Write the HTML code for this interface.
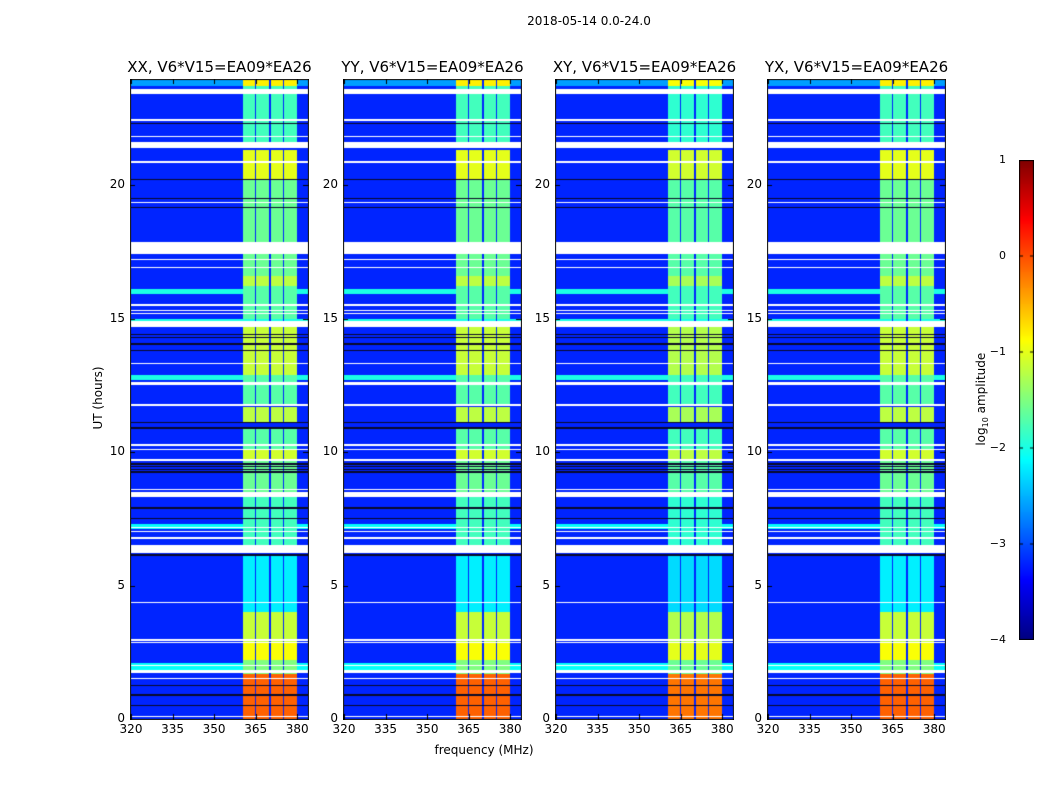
<!DOCTYPE html>
<html><head><meta charset="utf-8">
<style>
body{margin:0;background:#fff;width:1050px;height:800px;overflow:hidden;position:relative;font-family:"DejaVu Sans","Liberation Sans",sans-serif;}
.t{position:absolute;white-space:nowrap;color:#000;}
canvas{position:absolute;}
</style></head>
<body>
<div class="t" style="left:489px;top:14px;width:200px;text-align:center;font-size:12px;">2018-05-14 0.0-24.0</div>
<div class="t" style="left:48px;top:391px;width:100px;text-align:center;font-size:12px;transform:rotate(-90deg);">UT (hours)</div>
<div class="t" style="left:384px;top:743px;width:200px;text-align:center;font-size:12px;">frequency (MHz)</div>
<div class="t" style="left:922px;top:391px;width:120px;text-align:center;font-size:12px;transform:rotate(-90deg);">log<sub style="font-size:8px">10</sub> amplitude</div>
<div id="root"></div>
<script>
// ---- data ----
const panelTitles = ["XX, V6*V15=EA09*EA26","YY, V6*V15=EA09*EA26","XY, V6*V15=EA09*EA26","YX, V6*V15=EA09*EA26"];
const panelShift = [0, 0, -0.1, 0];
const yTicks = [0,5,10,15,20];
const xTicks = [320,335,350,365,380];
const cbTicks = [1,0,-1,-2,-3,-4];
const bgLevel = -3.2;
const bandRange = [360.5, 380.0];
const subBandGaps = [365.1, 370.2, 374.9];
const bandLevel = [[23.7,24,-0.8],[21.6,23.7,-1.8],[20.2,21.3,-1.0],[17.85,20.2,-1.6],[16.6,17.4,-1.6],[16.2,16.6,-1.2],[15.0,16.2,-1.7],[12.9,14.7,-1.15],[11.8,12.9,-1.7],[11.1,11.7,-1.2],[10.1,10.9,-1.7],[9.7,10.1,-1.1],[8.5,9.7,-1.6],[6.5,8.3,-1.8],[4.0,6.1,-2.2],[2.2,4.0,-1.15],[2.2,2.9,-0.9],[1.7,2.2,-1.5],[0,1.7,-0.1]];
const bgRows = [[15.9,16.1,-2.0],[14.9,15.0,-2.0],[12.7,12.9,-2.0],[7.1,7.3,-2.1],[1.75,2.1,-2.1],[23.7,24,-2.6]];
const flagged = [[23.4,23.6],[22.4,22.46],[21.78,21.84],[21.4,21.6],[20.84,20.9],[19.33,19.38],[17.4,17.85],[17.18,17.23],[16.88,16.93],[15.48,15.53],[15.28,15.33],[15.17,15.21],[14.7,14.9],[13.28,13.33],[12.5,12.62],[11.74,11.8],[10.24,10.29],[10.08,10.13],[9.68,9.73],[8.58,8.63],[8.3,8.5],[7.14,7.18],[7.0,7.04],[6.76,6.8],[6.2,6.5],[4.33,4.37],[2.93,2.98],[2.83,2.87],[1.98,2.03],[1.72,1.84],[1.48,1.53],[0.06,0.1]];
const blackLines = [22.3,20.2,19.5,19.15,14.4,14.3,14.05,13.8,11.1,10.9,9.55,9.45,9.35,9.25,7.9,7.5,6.12,6.16,1.25,0.9,0.5];

// ---- geometry ----
const panelLefts = [131,344,556,768];
const PW = 177, PT = 80, PB = 719;
const pxPerHour = 26.7, pxPerMHz = 2.77;
const yOf = h => PB - h*pxPerHour;
const hOf = y => (PB - y)/pxPerHour;
const fOf = x => 320 + x/pxPerMHz;
const vmin=-4, vmax=1;
function jet(v){
  let t=(v-vmin)/(vmax-vmin); t=Math.max(0,Math.min(1,t));
  const c=a=>Math.round(255*Math.max(0,Math.min(1,a)));
  return [c(1.5-Math.abs(4*t-3)),c(1.5-Math.abs(4*t-2)),c(1.5-Math.abs(4*t-1))];
}
function valueAt(h,f,shift){
  let v=bgLevel;
  for(const r of bgRows) if(h>=r[0]&&h<r[1]) v=r[2];
  if(f>=bandRange[0]&&f<bandRange[1]){
    let gap=false; for(const g of subBandGaps) if(Math.abs(f-g)<0.2) gap=true;
    if(!gap){ for(const b of bandLevel) if(h>=b[0]&&h<b[1]) v=b[2]+shift; }
    else v=bgLevel;
  }
  return v;
}
const root=document.getElementById('root');
function txt(name,s,x,y,w,align,size){
  const d=document.createElement('div'); d.className='t';
  
  
  d.textContent=s; d.style.left=x+'px'; d.style.top=y+'px'; d.style.width=w+'px';
  d.style.textAlign=align; d.style.fontSize=size+'px'; root.appendChild(d);
}
panelLefts.forEach((L,p)=>{
  const H=PB-PT;
  const cv=document.createElement('canvas'); cv.width=PW; cv.height=H;
  cv.style.left=L+'px'; cv.style.top=PT+'px';
  
  
  root.appendChild(cv);
  const ctx=cv.getContext('2d'); const img=ctx.createImageData(PW,H);
  for(let y=0;y<H;y++){
    const h=hOf(PT+y+0.5);
    let flag=false; for(const r of flagged) if(h>=r[0]&&h<r[1]) flag=true;
    let black=false; for(const b of blackLines) if(Math.abs(h-b)<0.025) black=true;
    for(let x=0;x<PW;x++){
      const i=(y*PW+x)*4; let c;
      if(flag) c=[255,255,255];
      else if(black) c=[10,10,40];
      else c=jet(valueAt(h,fOf(x+0.5),panelShift[p]));
      img.data[i]=c[0];img.data[i+1]=c[1];img.data[i+2]=c[2];img.data[i+3]=255;
    }
  }
  ctx.putImageData(img,0,0);
  const ov=document.createElement('canvas'); ov.width=PW+2; ov.height=H+2;
  ov.style.left=(L-1)+'px'; ov.style.top=(PT-1)+'px';
  
  
  root.appendChild(ov);
  const o=ov.getContext('2d'); o.strokeStyle='#000'; o.lineWidth=1;
  o.strokeRect(0.5,0.5,PW+1,H+1);
  yTicks.forEach(t=>{const yy=Math.round(yOf(t)-PT)+1.5;o.beginPath();o.moveTo(0,yy);o.lineTo(5,yy);o.moveTo(PW+1,yy);o.lineTo(PW-4,yy);o.stroke();});
  xTicks.forEach(t=>{const xx=Math.round((t-320)*pxPerMHz)+1.5;o.beginPath();o.moveTo(xx,H+1);o.lineTo(xx,H-4);o.moveTo(xx,0);o.lineTo(xx,5);o.stroke();});
  yTicks.forEach(t=>txt('y-tick-label',String(t),L-41,yOf(t)-8,35,'right',12));
  xTicks.forEach(t=>txt('x-tick-label',String(t),L+(t-320)*pxPerMHz-20,PB+3,40,'center',12));
  txt('panel-title-'+(p+1),panelTitles[p],L-50,58,PW+100,'center',15);
});
// colorbar
const CL=1019, CT=160, CW=15, CH=480;
const cb=document.createElement('canvas'); cb.width=CW; cb.height=CH;
cb.style.left=CL+'px'; cb.style.top=CT+'px';


root.appendChild(cb);
const cc=cb.getContext('2d');
for(let y=0;y<CH;y++){const c=jet(vmax-(y+0.5)/CH*(vmax-vmin));cc.fillStyle=`rgb(${c[0]},${c[1]},${c[2]})`;cc.fillRect(0,y,CW,1);}
cc.strokeStyle='#000';cc.strokeRect(0.5,0.5,CW-1,CH-1);
cbTicks.forEach(t=>{
  const y=CT+(vmax-t)/(vmax-vmin)*CH;
  cc.beginPath();cc.moveTo(0,y-CT);cc.lineTo(4,y-CT);cc.moveTo(CW,y-CT);cc.lineTo(CW-4,y-CT);cc.stroke();
  txt('colorbar-tick-label',(t<0?'\u2212':'')+Math.abs(t),CL-40,y-7,27,'right',11);
});
</script>
</body></html>
